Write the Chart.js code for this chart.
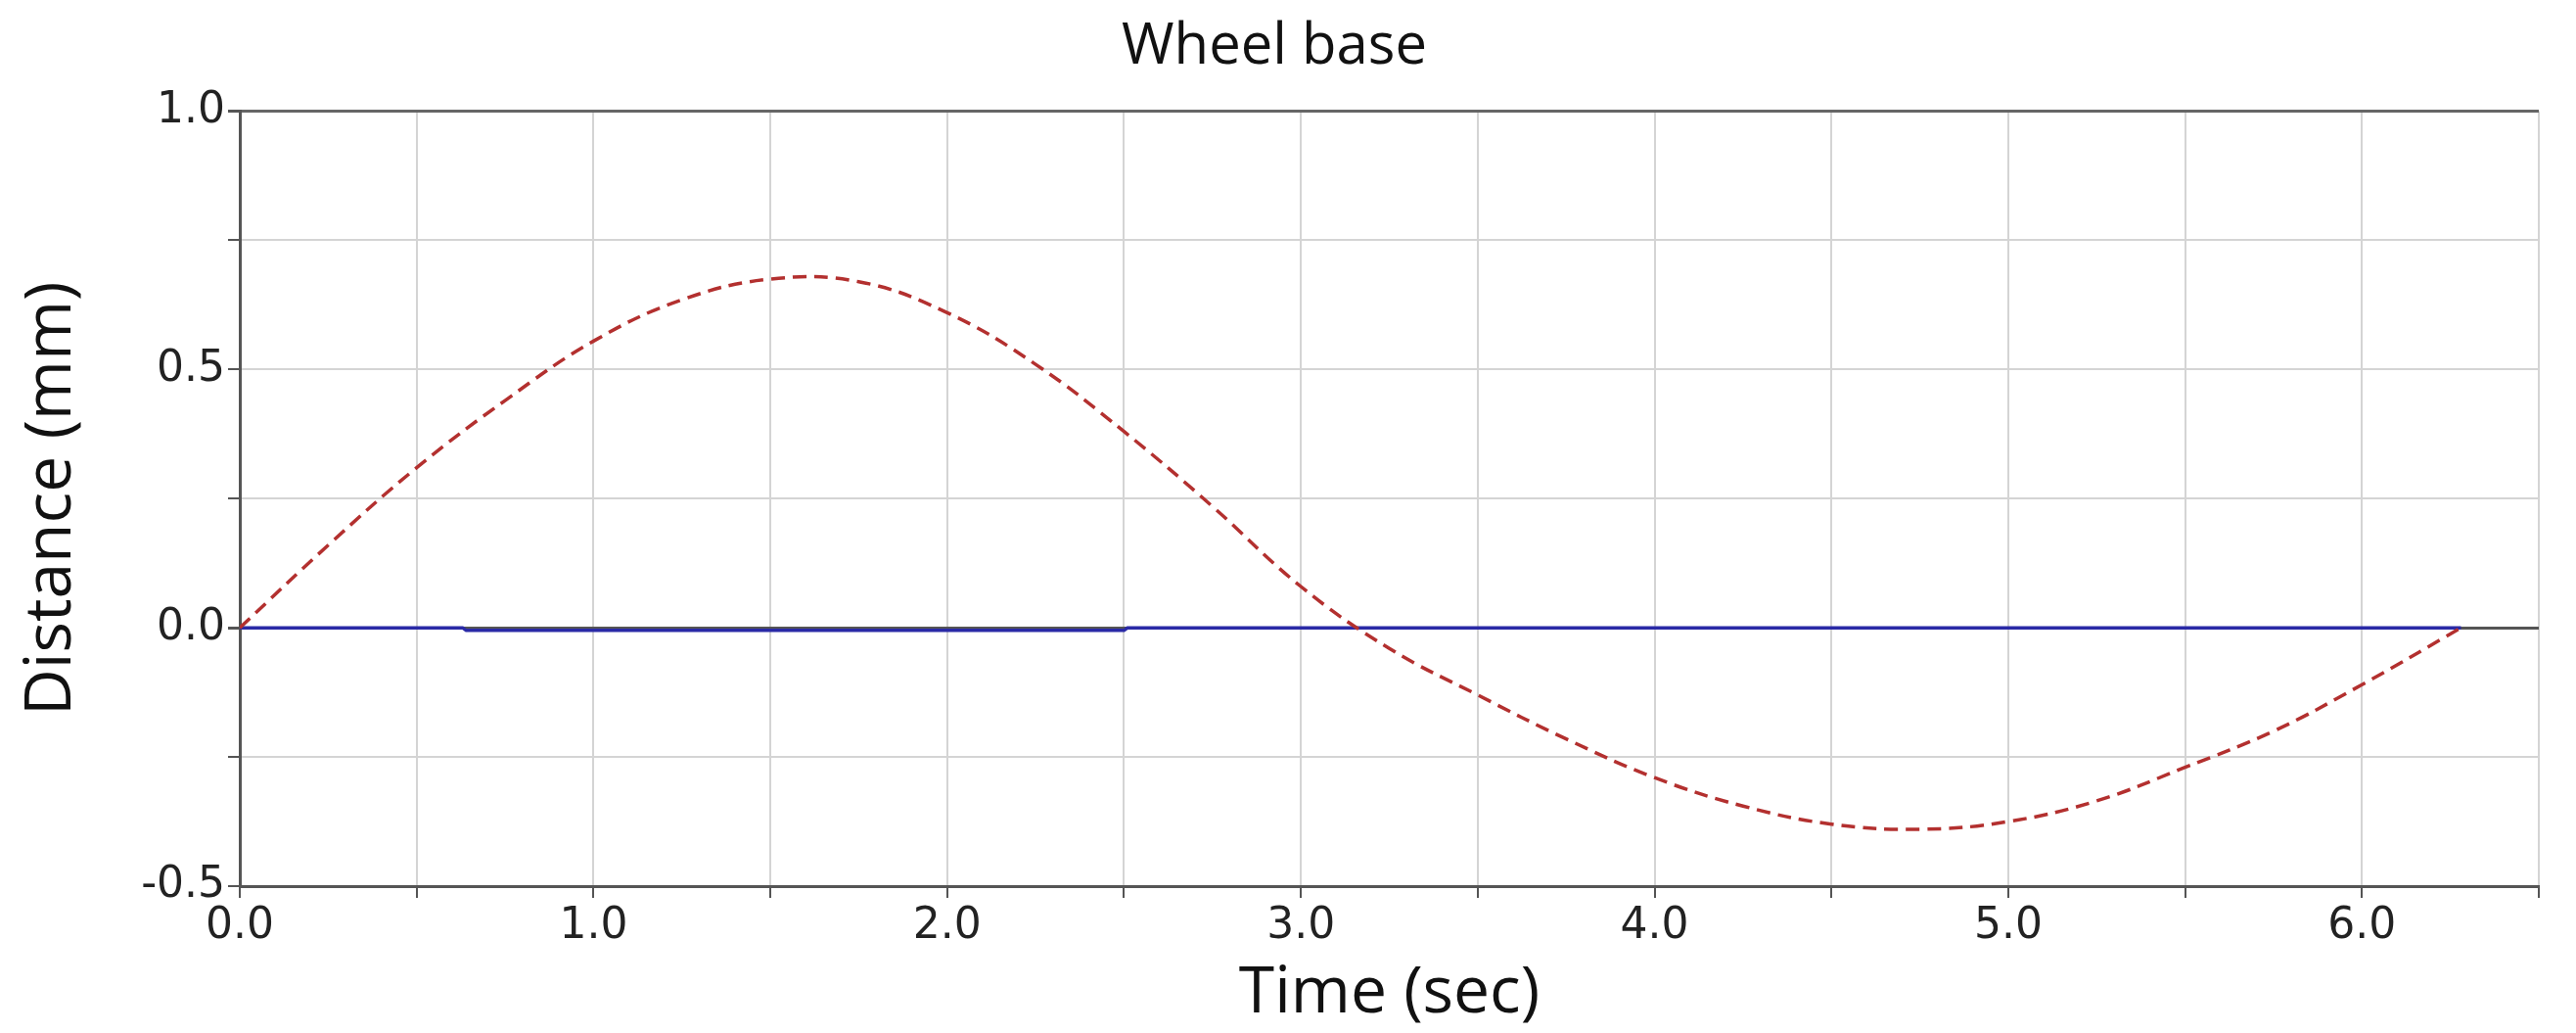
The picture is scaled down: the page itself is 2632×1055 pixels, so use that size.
<!DOCTYPE html>
<html><head><meta charset="utf-8">
<script src="https://cdn.jsdelivr.net/npm/chart.js@4"></script>
<style>html,body{margin:0;background:#fff}#w{width:2632px;height:1055px}</style>
</head><body><div id="w"><canvas id="c"></canvas></div>
<script>
const title = "Wheel base";
const xLabel = "Time (sec)";
const yLabel = "Distance (mm)";
const redT = [0,0.25,0.5,0.75,1.0,1.25,1.5,1.75,2.0,2.25,2.5,2.75,3.0,3.25,3.5,3.75,4.0,4.25,4.5,4.75,5.0,5.25,5.5,5.75,6.0,6.28];
const redV = [0,0.16,0.31,0.44,0.555,0.635,0.675,0.67,0.61,0.51,0.38,0.235,0.08,-0.04,-0.13,-0.215,-0.29,-0.345,-0.38,-0.39,-0.375,-0.335,-0.27,-0.20,-0.11,0];
const blueT = [0,0.63,0.64,2.5,2.51,6.28];
const blueV = [0,0,-0.005,-0.005,0,0];
const xTickLabels = ["0.0","1.0","2.0","3.0","4.0","5.0","6.0"];

const pts = (t,v)=>t.map((x,i)=>({x, y:v[i]}));
new Chart(document.getElementById('c'), {
  type:'line',
  data:{datasets:[
    {data:pts(redT,redV), borderColor:'#b3302f', borderWidth:3.5, borderDash:[14,8], pointRadius:0, tension:0.4},
    {data:pts(blueT,blueV), borderColor:'#2a2aa6', borderWidth:3.5, pointRadius:0, tension:0}
  ]},
  options:{
    responsive:true, maintainAspectRatio:false, animation:false,
    layout:{padding:{top:14,right:38,left:10,bottom:0}},
    plugins:{legend:{display:false},tooltip:{enabled:false},
      title:{display:true,text:title,color:'#111',font:{family:'Open Sans',size:58,weight:'normal'},padding:{top:0,bottom:30}}},
    scales:{
      x:{type:'linear',min:0,max:6.5,
        ticks:{stepSize:0.5,color:'#222',font:{family:'DejaVu Sans',size:44},autoSkip:false,
          callback:(v)=>Number.isInteger(v)?xTickLabels[v]:''},
        grid:{color:'#d4d4d4',lineWidth:2,tickLength:12,tickColor:'#555'},
        border:{color:'#555',width:3},
        title:{display:true,text:xLabel,color:'#111',font:{family:'Open Sans',size:66},padding:{top:0,bottom:0}}},
      y:{min:-0.5,max:1.0,
        afterFit:(s)=>{s.width=235;},
        ticks:{stepSize:0.25,color:'#222',font:{family:'DejaVu Sans',size:44},autoSkip:false,
          callback:(v)=>Math.abs(v*2-Math.round(v*2))<1e-9?v.toFixed(1):''},
        grid:{color:(c)=>c.tick&&c.tick.value===0?'#555':(c.tick&&c.tick.value===1?'#666':'#d4d4d4'),lineWidth:(c)=>c.tick&&(c.tick.value===0||c.tick.value===1)?3:2,tickLength:12,tickColor:'#555'},
        border:{color:'#555',width:3},
        title:{display:true,text:yLabel,color:'#111',font:{family:'Open Sans',size:66},padding:{bottom:0}}}
    }
  }
});
</script></body></html>
